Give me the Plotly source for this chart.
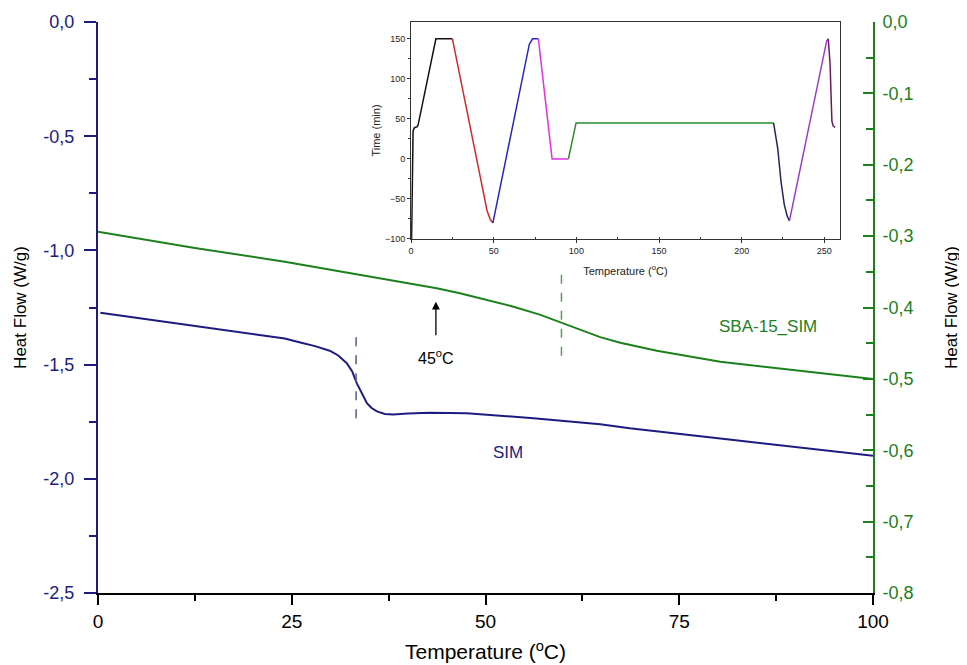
import plotly.graph_objects as go

# ---- main chart data ----
sim_T = [0.3, 12.0, 20.0, 24.1, 26.1, 28.0, 29.9, 31.0, 32.1, 32.8, 33.4, 34.1, 34.7, 35.3, 36.0, 37.0, 38.1,
         40.0, 42.8, 47.6, 56.2, 64.8, 68.6, 82.0, 100.0]
sim_HF = [-1.273, -1.328, -1.364, -1.386, -1.403, -1.419, -1.439, -1.460, -1.494, -1.530, -1.582, -1.630,
          -1.669, -1.690, -1.705, -1.716, -1.718, -1.714, -1.711, -1.713, -1.735, -1.761, -1.779, -1.830, -1.899]

sba_T = [0.0, 12.5, 24.1, 38.3, 43.7, 46.7, 50.0, 53.5, 57.0, 59.8, 62.5, 64.8, 67.4, 70.0, 72.1, 80.3, 91.4, 100.0]
sba_HF = [-0.294, -0.3166, -0.3358, -0.3629, -0.3731, -0.3800, -0.3885, -0.3985, -0.4100, -0.4215,
          -0.4325, -0.4415, -0.4495, -0.4560, -0.4605, -0.4759, -0.4899, -0.5002]

left_ticks = [0.0, -0.5, -1.0, -1.5, -2.0, -2.5]
left_labels = ["0,0", "-0,5", "-1,0", "-1,5", "-2,0", "-2,5"]
right_ticks = [0.0, -0.1, -0.2, -0.3, -0.4, -0.5, -0.6, -0.7, -0.8]
right_labels = ["0,0", "-0,1", "-0,2", "-0,3", "-0,4", "-0,5", "-0,6", "-0,7", "-0,8"]

# ---- inset (temperature program) segments ----
seg_black_x = [0.3, 0.5, 0.8, 1.2, 2.0, 3.5, 4.2, 15.0, 25.0]
seg_black_y = [-100, -60, 20, 35, 39, 40, 42, 150, 150]
seg_red_x = [25.0, 44.0, 46.0, 48.0, 49.5]
seg_red_y = [150, -45, -65, -76, -80]
seg_blue_x = [49.5, 71.5, 73.5, 77.0]
seg_blue_y = [-80, 143, 150, 150]
seg_mag_x = [77.0, 85.3, 95.2]
seg_mag_y = [150, 0, 0]
seg_green_x = [95.2, 99.8, 219.3]
seg_green_y = [0, 45, 45]
seg_navy_x = [219.3, 221.8, 223.8, 225.8, 227.5, 228.9]
seg_navy_y = [45, 13.6, -28.2, -57.4, -71, -77.4]
seg_violet_x = [228.9, 251.4, 252.4]
seg_violet_y = [-77.4, 147, 150]
seg_plum_x = [252.4, 253.5, 254.6, 255.4, 256.6]
seg_plum_y = [150, 118, 47, 41, 39.5]

NAVY = "#1c1c80"
GREEN = "#1d801d"
FONT = "Liberation Sans, Arial, sans-serif"

fig = go.Figure()
fig.add_trace(go.Scatter(x=sim_T, y=sim_HF, mode="lines", line=dict(color=NAVY, width=2),
                         xaxis="x", yaxis="y", showlegend=False))
fig.add_trace(go.Scatter(x=sba_T, y=sba_HF, mode="lines", line=dict(color=GREEN, width=2),
                         xaxis="x", yaxis="y2", showlegend=False))

inset = [
    (seg_black_x, seg_black_y, "#111111"),
    (seg_red_x, seg_red_y, "#d42a2a"),
    (seg_blue_x, seg_blue_y, "#2626c4"),
    (seg_mag_x, seg_mag_y, "#e030e0"),
    (seg_green_x, seg_green_y, "#2a8a2a"),
    (seg_navy_x, seg_navy_y, "#22225e"),
    (seg_violet_x, seg_violet_y, "#9a3ad0"),
    (seg_plum_x, seg_plum_y, "#6a1a5c"),
]
for sx, sy, c in inset:
    fig.add_trace(go.Scatter(x=sx, y=sy, mode="lines", line=dict(color=c, width=1.5),
                             xaxis="x2", yaxis="y3", showlegend=False))

# page body has an 8px default margin: size the figure so the plot area lands where the reference has it
fig.update_layout(
    width=959, height=657,
    margin=dict(l=90, r=94, t=14, b=72),
    paper_bgcolor="white", plot_bgcolor="rgba(0,0,0,0)",
    font=dict(family=FONT, color="black"),
    xaxis=dict(range=[0, 100], tickvals=[0, 25, 50, 75, 100], ticks="outside", ticklen=10, tickwidth=2,
               tickcolor="black", showline=True, linecolor="black", linewidth=2, showgrid=False, zeroline=False,
               automargin=False,
               minor=dict(dtick=12.5, ticks="outside", ticklen=6, tickwidth=2, tickcolor="black"),
               tickfont=dict(size=19, color="black"),
               title=dict(text="Temperature (<sup>o</sup>C)", font=dict(size=21, color="black"), standoff=14)),
    yaxis=dict(range=[-2.5, 0], tickvals=left_ticks, ticktext=left_labels, ticks="outside", ticklen=12,
               tickwidth=2, tickcolor=NAVY, showline=True, linecolor=NAVY, linewidth=2, showgrid=False,
               zeroline=False, automargin=False, ticklabelstandoff=6,
               minor=dict(dtick=0.25, ticks="outside", ticklen=7, tickwidth=2, tickcolor=NAVY),
               tickfont=dict(size=18, color=NAVY),
               title=dict(text="Heat Flow (W/g)", font=dict(size=17, color="black"), standoff=12)),
    yaxis2=dict(range=[-0.8, 0], overlaying="y", side="right", tickvals=right_ticks, ticktext=right_labels,
                ticks="inside", ticklen=10, tickwidth=2, tickcolor=GREEN, showline=True, linecolor=GREEN,
                linewidth=2, showgrid=False, zeroline=False, automargin=False, ticklabelstandoff=4,
                minor=dict(dtick=0.05, ticks="inside", ticklen=7, tickwidth=2, tickcolor=GREEN),
                tickfont=dict(size=18, color=GREEN),
                title=dict(text="Heat Flow (W/g)", font=dict(size=17, color="black"), standoff=32)),
    xaxis2=dict(domain=[0.404, 0.957], anchor="y3", range=[0, 259.3], tickvals=[0, 50, 100, 150, 200, 250],
                ticks="outside", ticklen=3, tickcolor="#333", showline=True, linecolor="#333", linewidth=1,
                mirror=True, showgrid=False, zeroline=False, automargin=False,
                minor=dict(dtick=25, ticks="inside", ticklen=2, tickcolor="#333"),
                tickfont=dict(size=9, color="#222"),
                title=dict(text="Temperature (<sup>o</sup>C)", font=dict(size=11, color="#222"), standoff=12)),
    yaxis3=dict(domain=[0.62, 1.0], anchor="x2", range=[-100, 171], tickvals=[-100, -50, 0, 50, 100, 150],
                ticks="outside", ticklen=3, tickcolor="#333", showline=True, linecolor="#333", linewidth=1,
                mirror=True, showgrid=False, zeroline=False, automargin=False,
                minor=dict(dtick=25, ticks="outside", ticklen=2, tickcolor="#333"),
                tickfont=dict(size=9, color="#222"),
                title=dict(text="Time (min)", font=dict(size=11, color="#222"), standoff=2)),
)

fig.add_shape(type="line", xref="x", yref="y", x0=33.3, x1=33.3, y0=-1.38, y1=-1.76,
              line=dict(color="#5a5a88", width=1.5, dash="dash"))
fig.add_shape(type="line", xref="x", yref="y2", x0=59.8, x1=59.8, y0=-0.354, y1=-0.474,
              line=dict(color="#5a9a5a", width=1.5, dash="dash"))

fig.add_annotation(x=43.6, y=-1.2246, ax=43.6, ay=-1.378, xref="x", yref="y", axref="x", ayref="y",
                   showarrow=True, arrowhead=2, arrowsize=1.2, arrowwidth=1.3, arrowcolor="black", text="")
fig.add_annotation(x=43.6, y=-1.465, xref="x", yref="y", text="45<sup>o</sup>C", showarrow=False,
                   font=dict(size=16, color="black"))
fig.add_annotation(x=86.5, y=-1.331, xref="x", yref="y", text="SBA-15_SIM", showarrow=False,
                   font=dict(size=17, color=GREEN))
fig.add_annotation(x=52.9, y=-1.887, xref="x", yref="y", text="SIM", showarrow=False,
                   font=dict(size=17, color=NAVY))

fig.write_html("out.html")
